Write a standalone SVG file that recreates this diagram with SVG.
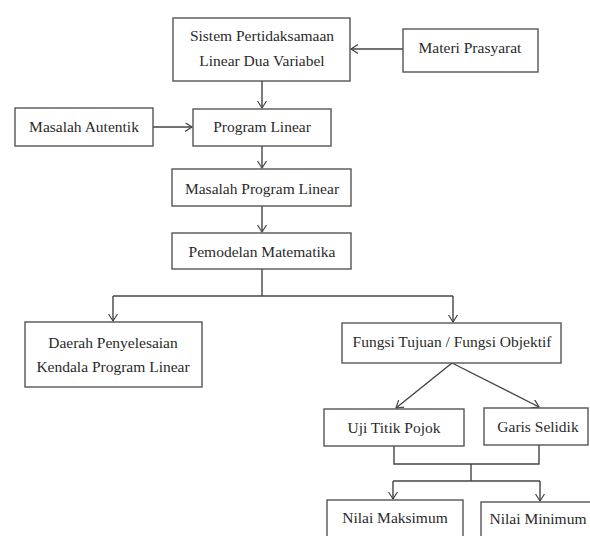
<svg xmlns="http://www.w3.org/2000/svg" width="590" height="536" viewBox="0 0 590 536">
<defs>
<marker id="arr" markerUnits="userSpaceOnUse" markerWidth="10" markerHeight="10" refX="7" refY="4.5" orient="auto">
<path d="M0,0 L7,4.5 L0,9" fill="none" stroke="#444" stroke-width="1.2"/>
</marker>
<style>
.box{fill:#fff;stroke:#555;stroke-width:1.4}
.t{font-family:"Liberation Serif","Times New Roman",serif;font-size:15.5px;fill:#2a2a2a;text-anchor:middle}
.c{fill:none;stroke:#444;stroke-width:1.4}
.a{marker-end:url(#arr)}
</style>
</defs>
<rect width="590" height="536" fill="#fff"/>
<g id="connectors">
<line class="c a" x1="403" y1="49" x2="351" y2="49"/>
<line class="c a" x1="262" y1="81" x2="262" y2="108"/>
<line class="c a" x1="153" y1="127" x2="192" y2="127"/>
<line class="c a" x1="262" y1="146" x2="262" y2="168"/>
<line class="c a" x1="262" y1="206" x2="262" y2="232"/>
<polyline class="c" points="262,269 262,296"/>
<polyline class="c" points="113,296 453,296"/>
<line class="c a" x1="113" y1="296" x2="113" y2="321"/>
<line class="c a" x1="453" y1="296" x2="453" y2="322"/>
<line class="c a" x1="452" y1="363" x2="396" y2="408"/>
<line class="c a" x1="452" y1="363" x2="539" y2="407"/>
<polyline class="c" points="394,446 394,464 539,464 539,445"/>
<line class="c" x1="471" y1="464" x2="471" y2="481"/>
<line class="c" x1="393" y1="481" x2="540" y2="481"/>
<line class="c a" x1="393" y1="481" x2="393" y2="499"/>
<line class="c a" x1="540" y1="481" x2="540" y2="501"/>
</g>
<g id="sistem">
<rect class="box" x="173" y="18" width="177" height="63"/>
<text class="t" x="262" y="41">Sistem Pertidaksamaan</text>
<text class="t" x="262" y="66">Linear Dua Variabel</text>
</g>
<g id="materi">
<rect class="box" x="403" y="29" width="135" height="43"/>
<text class="t" x="470" y="53">Materi Prasyarat</text>
</g>
<g id="masalah-autentik">
<rect class="box" x="15" y="108" width="138" height="38"/>
<text class="t" x="84" y="132">Masalah Autentik</text>
</g>
<g id="program-linear">
<rect class="box" x="193" y="109" width="138" height="37"/>
<text class="t" x="262" y="132">Program Linear</text>
</g>
<g id="masalah-program-linear">
<rect class="box" x="172" y="169" width="179" height="37"/>
<text class="t" x="262" y="194">Masalah Program Linear</text>
</g>
<g id="pemodelan">
<rect class="box" x="172" y="233" width="179" height="36"/>
<text class="t" x="262" y="257">Pemodelan Matematika</text>
</g>
<g id="daerah">
<rect class="box" x="25" y="322" width="177" height="65"/>
<text class="t" x="113" y="348">Daerah Penyelesaian</text>
<text class="t" x="113" y="372">Kendala Program Linear</text>
</g>
<g id="fungsi">
<rect class="box" x="342" y="323" width="219" height="40"/>
<text class="t" x="452" y="347">Fungsi Tujuan / Fungsi Objektif</text>
</g>
<g id="uji">
<rect class="box" x="324" y="409" width="140" height="37"/>
<text class="t" x="394" y="433">Uji Titik Pojok</text>
</g>
<g id="garis">
<rect class="box" x="484" y="408" width="104" height="37"/>
<text class="t" x="538" y="432">Garis Selidik</text>
</g>
<g id="nilai-maks">
<rect class="box" x="327" y="500" width="136" height="50"/>
<text class="t" x="395" y="523">Nilai Maksimum</text>
</g>
<g id="nilai-min">
<rect class="box" x="481" y="502" width="120" height="50"/>
<text class="t" x="538" y="524">Nilai Minimum</text>
</g>
</svg>
